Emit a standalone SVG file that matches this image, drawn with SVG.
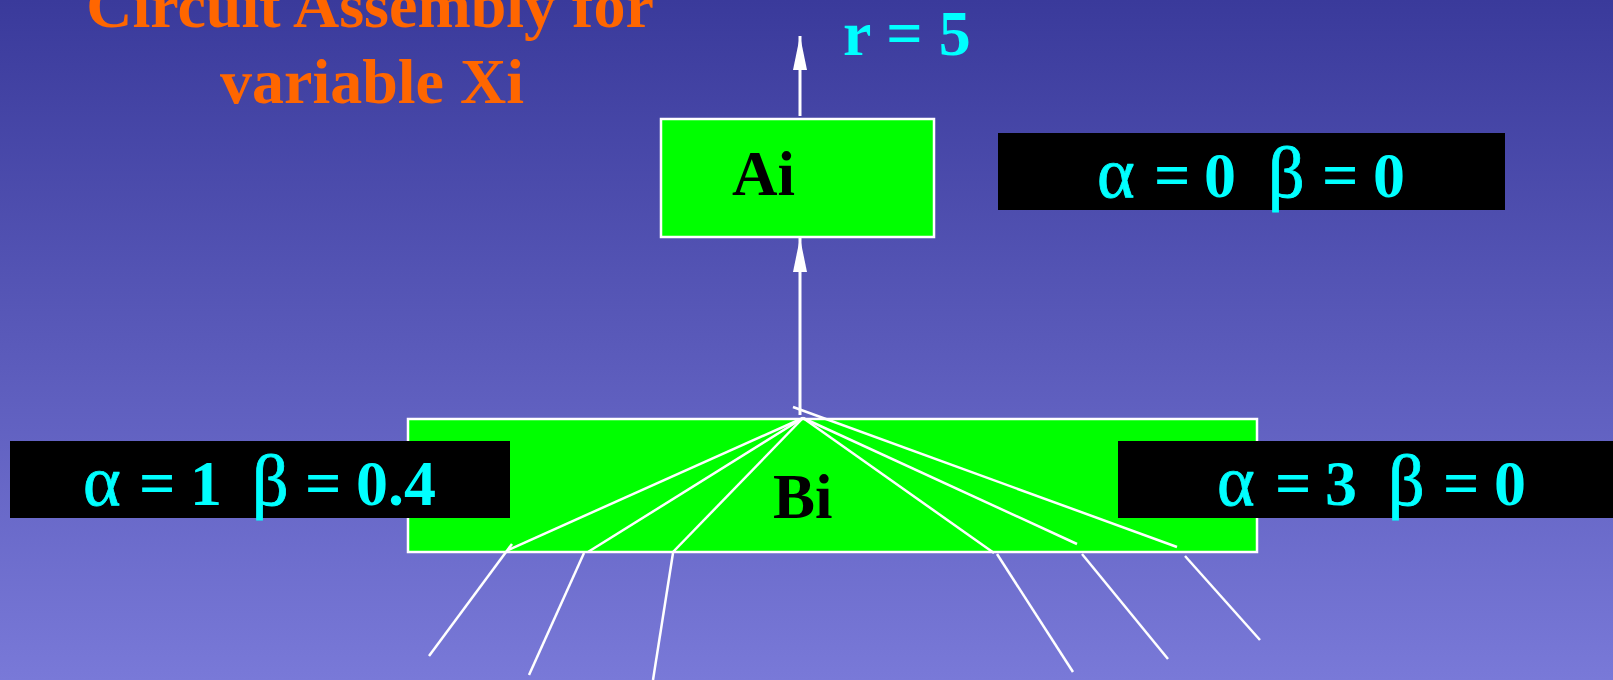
<svg xmlns="http://www.w3.org/2000/svg" width="1613" height="680" viewBox="0 0 1613 680">
<defs>
<linearGradient id="bg" x1="0" y1="0" x2="0" y2="1">
<stop offset="0" stop-color="#3a3a9b"/>
<stop offset="1" stop-color="#7979d8"/>
</linearGradient>
<marker id="ah" viewBox="0 0 34 14" refX="34" refY="7" markerWidth="34" markerHeight="14" markerUnits="userSpaceOnUse" orient="auto">
<path d="M0,0 L34,7 L0,14 z" fill="#ffffff"/>
</marker>
<style>
.box{fill:#00ff00;stroke:#ffffff;stroke-width:2.5}
.blk{fill:#000000}
.nt{font-family:"Liberation Serif","Times New Roman",serif;font-weight:bold;font-size:63px;fill:#000000}
.lbl{font-family:"Liberation Serif","Times New Roman",serif;font-weight:bold;font-size:64px;fill:#00ffff}
.g{font-weight:normal;font-size:72px;stroke:#00ffff;stroke-width:0.8}
.eq{font-weight:bold}
.title{font-family:"Liberation Serif","Times New Roman",serif;font-weight:bold;font-size:64px;fill:#ff6600;text-anchor:middle}
.arr{stroke:#ffffff;stroke-width:3;fill:none}
.fan{stroke:#ffffff;stroke-width:2.5;fill:none}
</style>
</defs>
<rect x="0" y="0" width="1613" height="680" fill="url(#bg)"/>
<g id="title">
<text class="title" x="370" y="27">Circuit Assembly for</text>
<text class="title" x="372" y="103">variable Xi</text>
</g>
<g id="r-label">
<text class="lbl" x="843" y="55">r = 5</text>
</g>
<g id="node-Ai">
<rect class="box" x="661" y="119" width="273" height="118"/>
<text class="nt" x="732" y="195">Ai</text>
</g>
<g id="node-Bi">
<rect class="box" x="408" y="419" width="849" height="133"/>
<text class="nt" x="773" y="518">Bi</text>
</g>
<g id="connectors">
<line class="arr" x1="800" y1="116" x2="800" y2="36" marker-end="url(#ah)"/>
<line class="arr" x1="800" y1="415" x2="800" y2="238" marker-end="url(#ah)"/>
<line class="fan" x1="803" y1="418" x2="508" y2="550"/>
<line class="fan" x1="512" y1="544" x2="429" y2="656"/>
<line class="fan" x1="803" y1="418" x2="588" y2="552"/>
<line class="fan" x1="584" y1="553" x2="529" y2="675"/>
<line class="fan" x1="803" y1="418" x2="673" y2="552"/>
<line class="fan" x1="673" y1="553" x2="653" y2="680"/>
<line class="fan" x1="803" y1="418" x2="994" y2="553"/>
<line class="fan" x1="997" y1="554" x2="1073" y2="672"/>
<line class="fan" x1="803" y1="418" x2="1077" y2="544"/>
<line class="fan" x1="1082" y1="554" x2="1168" y2="659"/>
<line class="fan" x1="793" y1="407" x2="1177" y2="547"/>
<line class="fan" x1="1185" y1="556" x2="1260" y2="640"/>
</g>
<g id="label-top">
<rect class="blk" x="998" y="133" width="507" height="77"/>
<text class="lbl" y="197"><tspan class="g" x="1097">α</tspan><tspan class="eq" x="1154">=</tspan><tspan x="1204">0</tspan><tspan class="g" x="1268">β</tspan><tspan class="eq" x="1322">=</tspan><tspan x="1373">0</tspan></text>
</g>
<g id="label-left">
<rect class="blk" x="10" y="441" width="500" height="77"/>
<text class="lbl" y="505"><tspan class="g" x="83">α</tspan><tspan class="eq" x="139">=</tspan><tspan x="190">1</tspan><tspan class="g" x="252">β</tspan><tspan class="eq" x="305">=</tspan><tspan x="356">0.4</tspan></text>
</g>
<g id="label-right">
<rect class="blk" x="1118" y="441" width="495" height="77"/>
<text class="lbl" y="505"><tspan class="g" x="1217">α</tspan><tspan class="eq" x="1275">=</tspan><tspan x="1325">3</tspan><tspan class="g" x="1388">β</tspan><tspan class="eq" x="1443">=</tspan><tspan x="1494">0</tspan></text>
</g>
</svg>
